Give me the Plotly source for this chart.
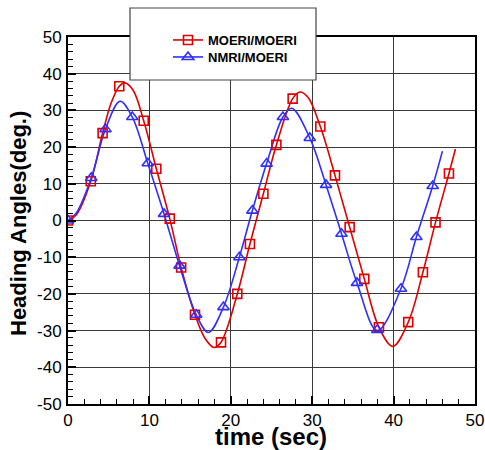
import plotly.graph_objects as go

# ---- data ----
red_line_t = [0, 1.0, 2.8, 4.25, 5.3, 6.3, 7.0, 8.0, 9.3, 10.85, 12.5, 13.9, 15.6, 16.8, 17.95,
              18.8, 20.8, 22.35, 24.0, 25.6, 27.6, 28.5, 29.5, 31.0, 32.8, 34.6, 36.4, 38.2,
              39.9, 41.8, 43.6, 45.15, 46.8, 47.6]
red_line_y = [0, 1.5, 10.7, 23.8, 32.0, 36.6, 37.5, 35.5, 27.2, 14.1, 0.5, -12.8, -25.7, -32.0, -34.6,
              -33.2, -20.0, -6.4, 7.3, 20.6, 33.2, 35.0, 33.5, 25.6, 12.3, -1.8, -15.9, -29.1,
              -34.3, -27.7, -14.1, -0.5, 12.8, 19.5]

blue_line_t = [0, 1.0, 2.86, 4.6, 6.4, 7.9, 9.8, 11.8, 13.7, 15.75, 17.25, 19.1, 21.05, 22.65,
               24.4, 26.4, 27.5, 29.7, 31.7, 33.6, 35.5, 38.0, 40.9, 42.8, 44.8, 46.0]
blue_line_y = [0, 2.0, 11.6, 24.9, 32.5, 28.2, 15.6, 1.8, -12.3, -25.7, -30.5, -23.6, -10.0, 2.7,
               15.5, 28.2, 30.6, 22.5, 9.7, -3.6, -17.0, -30.0, -18.6, -4.5, 9.4, 18.9]

red_mark_t = [0, 2.8, 4.25, 6.3, 9.3, 10.85, 12.5, 13.9, 15.6, 18.8, 20.8, 22.35, 24.0, 25.6,
              27.6, 31.0, 32.8, 34.6, 36.4, 38.2, 41.8, 43.6, 45.15, 46.8]
red_mark_y = [0, 10.7, 23.8, 36.6, 27.2, 14.1, 0.5, -12.8, -25.7, -33.2, -20.0, -6.4, 7.3, 20.6,
              33.2, 25.6, 12.3, -1.8, -15.9, -29.1, -27.7, -14.1, -0.5, 12.8]

blue_mark_t = [0, 2.86, 4.6, 7.9, 9.8, 11.8, 13.7, 15.75, 19.1, 21.05, 22.65, 24.4, 26.4, 29.7,
               31.7, 33.6, 35.5, 38.0, 40.9, 42.8, 44.8]
blue_mark_y = [0, 11.6, 24.9, 28.2, 15.6, 1.8, -12.3, -25.7, -23.6, -10.0, 2.7, 15.5, 28.2, 22.5,
               9.7, -3.6, -17.0, -29.8, -18.6, -4.5, 9.4]

series_names = ["MOERI/MOERI", "NMRI/MOERI"]
x_ticks = [0, 10, 20, 30, 40, 50]
y_ticks = [-50, -40, -30, -20, -10, 0, 10, 20, 30, 40, 50]

RED = "#e00000"
BLUE = "#2f2fff"
FONT = "Liberation Sans, Arial, sans-serif"

L, R, T, B = 68, 10, 37, 46
W, H = 485, 450
pw, ph = W - L - R, H - T - B

def px_to_paper_x(px):
    return (px - L) / pw

def px_to_paper_y(py):
    return (H - B - py) / ph

fig = go.Figure()
fig.add_trace(go.Scatter(x=red_line_t, y=red_line_y, mode="lines",
                         line=dict(color=RED, width=1.6, shape="spline", smoothing=1.0), showlegend=False))
fig.add_trace(go.Scatter(x=blue_line_t, y=blue_line_y, mode="lines",
                         line=dict(color=BLUE, width=1.6, shape="spline", smoothing=1.0), showlegend=False))
fig.add_trace(go.Scatter(x=red_mark_t, y=red_mark_y, mode="markers",
                         marker=dict(symbol="square-open", size=9, color=RED, line=dict(width=1.6)), showlegend=False))
fig.add_trace(go.Scatter(x=blue_mark_t, y=blue_mark_y, mode="markers",
                         marker=dict(symbol="triangle-up-open", size=10, color=BLUE, line=dict(width=1.6)), showlegend=False))
# legend entries (one legend each, for exact placement)
fig.add_trace(go.Scatter(x=[None], y=[None], mode="lines+markers", name="<b>%s</b>" % series_names[0],
                         line=dict(color=RED, width=1.6), legend="legend",
                         marker=dict(symbol="square-open", size=9, color=RED, line=dict(width=1.6))))
fig.add_trace(go.Scatter(x=[None], y=[None], mode="lines+markers", name="<b>%s</b>" % series_names[1],
                         line=dict(color=BLUE, width=1.6), legend="legend2",
                         marker=dict(symbol="triangle-up-open", size=10, color=BLUE, line=dict(width=1.6))))

axis_common = dict(
    showline=True, linecolor="black", linewidth=2, mirror=True,
    ticks="inside", ticklen=8, tickwidth=1.5, tickcolor="black",
    showgrid=True, gridcolor="#3a3a3a", gridwidth=1,
    zeroline=False, automargin=False,
    tickfont=dict(family=FONT, size=17, color="black"),
    minor=dict(dtick=2, ticks="inside", ticklen=5, tickwidth=1.2, tickcolor="black", showgrid=False),
)

fig.update_xaxes(range=[0, 50], tickvals=x_ticks, ticktext=[str(v) for v in x_ticks], **axis_common)
fig.update_yaxes(range=[-50, 50], tickvals=y_ticks, ticktext=[str(v) for v in y_ticks], **axis_common)
fig.update_xaxes(ticklabelstandoff=0)
fig.update_yaxes(ticklabelstandoff=1)

fig.add_shape(type="rect", xref="paper", yref="paper",
              x0=px_to_paper_x(130), x1=px_to_paper_x(316),
              y0=px_to_paper_y(80), y1=px_to_paper_y(8),
              line=dict(color="#444", width=1.2), fillcolor="white", layer="above")

fig.add_annotation(text="<b>time (sec)</b>", xref="paper", yref="paper",
                   x=px_to_paper_x(271), y=px_to_paper_y(436), showarrow=False,
                   font=dict(family=FONT, size=24, color="black"), xanchor="center", yanchor="middle")
fig.add_annotation(text="<b>Heading Angles(deg.)</b>", xref="paper", yref="paper",
                   x=px_to_paper_x(18), y=px_to_paper_y(224), showarrow=False, textangle=-90,
                   font=dict(family=FONT, size=22, color="black"), xanchor="center", yanchor="middle")

leg_common = dict(xanchor="left", yanchor="middle", bgcolor="rgba(0,0,0,0)", borderwidth=0,
                  font=dict(family=FONT, size=13, color="black"), itemwidth=30)

fig.update_layout(
    width=W, height=H,
    margin=dict(l=L, r=R, t=T, b=B, autoexpand=False),
    paper_bgcolor="white", plot_bgcolor="white",
    font=dict(family=FONT, color="black"),
    legend=dict(x=px_to_paper_x(168), y=px_to_paper_y(40), **leg_common),
    legend2=dict(x=px_to_paper_x(168), y=px_to_paper_y(57), **leg_common),
)

fig.write_html("out.html", config={"displayModeBar": False},
               post_script="document.body.style.margin='0px';document.body.style.overflow='hidden';")
